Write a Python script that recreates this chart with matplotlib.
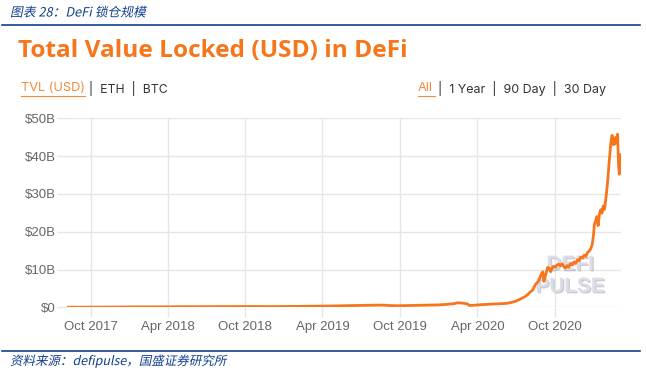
import matplotlib
matplotlib.use("Agg")
import matplotlib.pyplot as plt
import matplotlib.patheffects as pe
from matplotlib.transforms import Affine2D
import pandas as pd

# ---------------- data (USD billions) ----------------
dates = [
    "2017-08-06", "2017-09-01", "2017-10-01", "2017-11-01", "2017-12-01",
    "2018-01-01", "2018-02-01", "2018-03-01", "2018-04-01", "2018-05-01",
    "2018-06-01", "2018-07-01", "2018-08-01", "2018-09-01", "2018-10-01",
    "2018-11-01", "2018-12-01", "2019-01-01", "2019-02-01", "2019-03-01",
    "2019-04-01", "2019-05-01", "2019-06-01", "2019-07-01", "2019-08-01",
    "2019-08-20", "2019-09-10", "2019-10-01", "2019-11-01", "2019-12-01",
    "2020-01-01", "2020-01-20", "2020-02-05", "2020-02-15", "2020-03-01",
    "2020-03-08", "2020-03-13", "2020-03-25", "2020-04-10", "2020-04-25",
    "2020-05-10", "2020-05-25", "2020-06-10", "2020-06-20", "2020-06-30",
    "2020-07-08", "2020-07-15", "2020-07-22", "2020-07-29", "2020-08-04",
    "2020-08-09", "2020-08-13", "2020-08-17", "2020-08-21", "2020-08-25",
    "2020-08-29", "2020-09-02", "2020-09-05", "2020-09-08", "2020-09-11",
    "2020-09-14", "2020-09-18", "2020-09-21", "2020-09-24", "2020-09-28",
    "2020-10-02", "2020-10-06", "2020-10-10", "2020-10-14", "2020-10-18",
    "2020-10-22", "2020-10-26", "2020-10-30", "2020-11-03", "2020-11-07",
    "2020-11-11", "2020-11-15", "2020-11-19", "2020-11-23", "2020-11-27",
    "2020-12-01", "2020-12-05", "2020-12-09", "2020-12-13", "2020-12-17",
    "2020-12-21", "2020-12-25", "2020-12-28", "2020-12-31", "2021-01-02",
    "2021-01-05", "2021-01-08", "2021-01-11", "2021-01-14", "2021-01-17",
    "2021-01-20", "2021-01-23", "2021-01-26", "2021-01-29", "2021-02-01",
    "2021-02-03", "2021-02-05", "2021-02-08", "2021-02-10", "2021-02-13",
    "2021-02-16", "2021-02-18", "2021-02-20", "2021-02-22", "2021-02-24",
    "2021-02-26", "2021-02-28", "2021-03-02", "2021-03-04", "2021-03-05",
    "2021-03-06",
]
tvl_billion = [
    0.02, 0.03, 0.04, 0.05, 0.07,
    0.10, 0.11, 0.12, 0.13, 0.16,
    0.16, 0.17, 0.18, 0.19, 0.21,
    0.20, 0.19, 0.21, 0.24, 0.28,
    0.32, 0.37, 0.44, 0.50, 0.56,
    0.58, 0.45, 0.42, 0.50, 0.56,
    0.64, 0.78, 0.95, 1.20, 1.05,
    0.90, 0.50, 0.55, 0.70, 0.78,
    0.88, 0.95, 1.05, 1.30, 1.60,
    2.00, 2.40, 2.80, 3.40, 4.10,
    4.50, 5.40, 6.20, 6.60, 7.40,
    8.60, 9.40, 6.90, 8.20, 9.40,
    10.6, 10.2, 9.4, 10.3, 10.9,
    10.6, 11.2, 11.4, 11.0, 11.5,
    10.8, 10.4, 11.0, 10.6, 11.6,
    11.2, 12.0, 11.6, 12.6, 12.3,
    13.3, 13.0, 13.8, 13.5, 14.5,
    14.9, 15.6, 16.6, 19.0, 21.8,
    22.8, 24.0, 21.6, 24.6, 25.8,
    24.9, 26.8, 25.9, 28.4, 31.5,
    34.0, 37.0, 41.0, 43.5, 45.5,
    43.0, 44.5, 43.2, 45.0, 44.0,
    45.8, 38.0, 35.2, 36.6, 40.4,
    39.2,
]
y_ticks = [0, 10, 20, 30, 40, 50]
y_tick_labels = ["$0", "$10B", "$20B", "$30B", "$40B", "$50B"]
x_ticks = ["2017-10-01", "2018-04-01", "2018-10-01", "2019-04-01",
           "2019-10-01", "2020-04-01", "2020-10-01"]
x_tick_labels = ["Oct 2017", "Apr 2018", "Oct 2018", "Apr 2019",
                 "Oct 2019", "Apr 2020", "Oct 2020"]

# ---------------- figure ----------------
W, H = 646, 379
fig = plt.figure(figsize=(W / 100, H / 100), dpi=100)
plt.rcParams['font.family'] = ['Liberation Sans', 'DejaVu Sans']

def fx(px):
    return px / W

def fy(py):
    return 1 - py / H

class Skew(pe.AbstractPathEffect):
    def __init__(self, deg=12):
        super().__init__()
        self.deg = deg
    def draw_path(self, renderer, gc, tpath, affine, rgbFace=None):
        renderer.draw_path(gc, tpath, Affine2D().skew_deg(self.deg, 0) + affine, rgbFace)

BLUE = "#123f8c"
ORANGE = "#f7761b"
SEL_ORANGE = "#f28a3c"
GRAY_TXT = "#333333"
cjk = ['Noto Sans CJK SC', 'DejaVu Sans']

# header / footer
fig.text(fx(10), fy(13), "图表 28：DeFi 锁仓规模", family=cjk, fontsize=9.2,
         color=BLUE, va="center", ha="left", path_effects=[Skew(12)])
fig.add_artist(plt.Line2D([fx(2), fx(640)], [fy(25), fy(25)], color=BLUE, lw=1.2))
fig.add_artist(plt.Line2D([fx(2), fx(640)], [fy(351), fy(351)], color=BLUE, lw=1.2))
fig.text(fx(10), fy(361), "资料来源：defipulse，国盛证券研究所", family=cjk, fontsize=9,
         color=BLUE, va="center", ha="left", path_effects=[Skew(12)])

# title
fig.text(fx(18), fy(51), "Total Value Locked (USD) in DeFi", family=['Open Sans', 'DejaVu Sans'],
         fontsize=17.6, fontweight="bold", color=ORANGE, va="center", ha="left")

# selectors
sel_font = ['Inter', 'DejaVu Sans']
fig.text(fx(21), fy(88), "TVL (USD)", family=sel_font, fontsize=9.2,
         color=SEL_ORANGE, va="center", ha="left")
fig.text(fx(89), fy(88), "|  ETH  |  BTC", family=sel_font, fontsize=8.8,
         color=GRAY_TXT, va="center", ha="left")
fig.text(fx(418), fy(88), "All", family=sel_font, fontsize=9.2,
         color=SEL_ORANGE, va="center", ha="left")
fig.text(fx(438), fy(88), "|  1 Year  |  90 Day  |  30 Day", family=sel_font, fontsize=9.0,
         color=GRAY_TXT, va="center", ha="left")
fig.add_artist(plt.Line2D([fx(21), fx(85)], [fy(95.5), fy(95.5)], color=SEL_ORANGE, lw=0.8))
fig.add_artist(plt.Line2D([fx(418), fx(435)], [fy(95.5), fy(95.5)], color=SEL_ORANGE, lw=0.8))

# axes
left, right, top, bottom = 67, 621, 118.3, 307.3
ax = fig.add_axes([fx(left), fy(bottom), fx(right - left), (bottom - top) / H])
x = pd.to_datetime(dates)
ax.plot(x, tvl_billion, color=ORANGE, lw=2.0, zorder=3, solid_joinstyle="round")
ax.set_xlim(pd.Timestamp("2017-08-06"), pd.Timestamp("2021-03-06"))
ax.set_ylim(0, 50)
ax.set_yticks(y_ticks)
ax.set_yticklabels(y_tick_labels)
ax.set_xticks(pd.to_datetime(x_ticks))
ax.set_xticklabels(x_tick_labels)
for s in ax.spines.values():
    s.set_visible(False)
ax.grid(True, color="#e6e6e6", lw=1.0, zorder=0)
ax.tick_params(axis="both", colors="#e6e6e6", labelcolor="#666666", labelsize=9.5,
               length=7, width=1.0)
ax.tick_params(axis="y", pad=1)
ax.tick_params(axis="x", pad=3)
ax.set_axisbelow(True)

# watermark
sh = [pe.withSimplePatchShadow(offset=(1, -1), shadow_rgbFace="#9d9aae", alpha=0.5)]
ax.text(0.908, 0.227, "DEFI", transform=ax.transAxes, fontsize=15, fontweight="bold",
        color="#dedde5", ha="center", va="center", zorder=2, path_effects=sh)
ax.text(0.908, 0.11, "PULSE", transform=ax.transAxes, fontsize=15, fontweight="bold",
        color="#dedde5", ha="center", va="center", zorder=2, path_effects=sh)

fig.savefig("out.png", dpi=100)
